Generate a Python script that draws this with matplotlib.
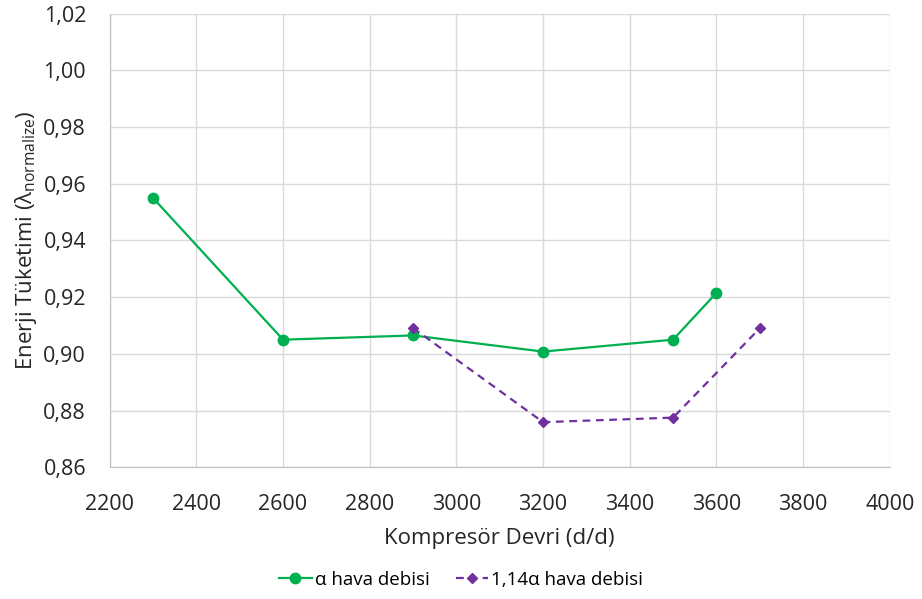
import matplotlib.pyplot as plt
from matplotlib.ticker import FuncFormatter, MultipleLocator

plt.rcParams["font.family"] = ["Open Sans", "DejaVu Sans"]
plt.rcParams["mathtext.fontset"] = "custom"
plt.rcParams["mathtext.rm"] = "Open Sans"
plt.rcParams["mathtext.it"] = "Open Sans"

# data
devir_a = [2300, 2600, 2900, 3200, 3500, 3600]
enerji_a = [0.955, 0.905, 0.9065, 0.9008, 0.905, 0.9215]
devir_b = [2900, 3200, 3500, 3700]
enerji_b = [0.9091, 0.8759, 0.8775, 0.909]

fig = plt.figure(figsize=(9.22, 5.99), dpi=100)
ax = fig.add_axes([0.119, 0.22, 0.846, 0.757])

ax.plot(devir_a, enerji_a, color="#00B050", lw=1.6, marker="o", ms=7.5,
        label="α hava debisi", zorder=3)
ax.plot(devir_b, enerji_b, color="#7030A0", lw=1.6, ls=(0, (3.5, 2.5)),
        marker="D", ms=5.5, label="1,14α hava debisi", zorder=3)

ax.set_xlim(2200, 4000)
ax.set_ylim(0.86, 1.02)
ax.xaxis.set_major_locator(MultipleLocator(200))
ax.yaxis.set_major_locator(MultipleLocator(0.02))
ax.yaxis.set_major_formatter(FuncFormatter(lambda v, p: f"{v:.2f}".replace(".", ",")))

ax.grid(color="#D9D9D9", lw=1)
ax.set_axisbelow(True)
for s in ["top", "right"]:
    ax.spines[s].set_visible(False)
for s in ["left", "bottom"]:
    ax.spines[s].set_color("#BFBFBF")
ax.tick_params(length=0, labelsize=15.5, colors="#262626")
ax.tick_params(axis="x", pad=19)
ax.tick_params(axis="y", pad=17)

ax.set_xlabel("Kompresör Devri (d/d)", fontsize=16, color="#262626", labelpad=10)
ax.set_ylabel(r"Enerji Tüketimi (λ$_{\rm normalize}$)", fontsize=16, color="#262626", labelpad=3)

fig.legend(loc="center", bbox_to_anchor=(0.5, 0.032), ncol=2, frameon=False,
           fontsize=13.5, handlelength=1.75, columnspacing=1.4, handletextpad=0.15)

fig.savefig("out.png", dpi=100)
